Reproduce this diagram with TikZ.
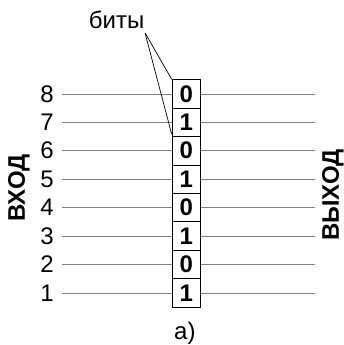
\documentclass[tikz,border=0pt]{standalone}
\usepackage{fontspec}
\setmainfont{Liberation Sans}
\usetikzlibrary{shapes, arrows}

\begin{document}
\begin{tikzpicture}[
	bit/.style={rectangle, draw, line width=0.9pt, minimum width=1cm, minimum height=1cm, inner sep=0pt, font=\fontsize{24}{24}\selectfont\bfseries},
	wire/.style={draw=gray, line width=0.7pt},
	lbl/.style={font=\fontsize{24}{24}\selectfont},
	side/.style={rotate=90, font=\fontsize{24}{24}\selectfont\bfseries}]
		\useasboundingbox (0,-1.83) rectangle (12.06,10.3);
		\foreach \n/\b in {1/1,2/0,3/1,4/0,5/1,6/0,7/1,8/0} {
			\node at (6.55,\n-1) [bit] (C\n) {\b};
			\node at (1.65,\n-1) [lbl] (N\n) {\n};
			\coordinate (L\n) at (2.18,\n-1);
			\coordinate (R\n) at (11.07,\n-1);
			\draw[wire] (L\n) -- (C\n.west);
			\draw[wire] (C\n.east) -- (R\n);
		}
		\node at (4.1,9.6) [lbl] (bits) {биты};
		\coordinate (fork) at (5.10,9.14);
		\draw[line width=0.7pt] (fork) -- (C8.north west);
		\draw[line width=0.7pt] (fork) -- ([yshift=3pt]C7.south west);
		\node at (0.66,3.69) [side] (in) {ВХОД};
		\node at (11.70,3.44) [side] (out) {ВЫХОД};
		\node at (6.5,-1.41) [lbl] (cap) {а)};
\end{tikzpicture}
\end{document}
